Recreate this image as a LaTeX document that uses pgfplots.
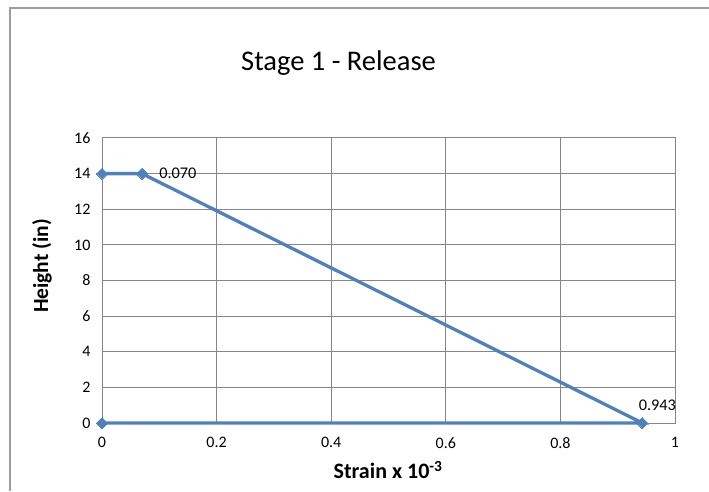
\documentclass[border=0pt]{standalone}
\usepackage{pgfplots}
\pgfplotsset{compat=1.18}
\usepackage{fontspec}
\setmainfont{Carlito}
\definecolor{xlblue}{HTML}{4F81BD}
\definecolor{xlgrid}{HTML}{868686}
\begin{document}
\begin{tikzpicture}[x=1pt,y=1pt]
\useasboundingbox (0,0) rectangle (709,491);
\draw[xlgrid!80, line width=1.2pt] (10,0) -- (10,483) -- (709,483);
\begin{axis}[
  at={(102pt,68pt)}, anchor=south west,
  scale only axis, width=573pt, height=285pt,
  xmin=0, xmax=1, ymin=0, ymax=16,
  xtick={0,0.2,0.4,0.6,0.8,1},
  ytick={0,2,4,6,8,10,12,14,16},
  xticklabels={0,0.2,0.4,0.6,0.8,1},
  grid=major,
  major grid style={xlgrid, line width=1pt},
  axis line style={xlgrid, line width=1pt},
  major tick length=0pt,
  tick style={draw=none},
  /pgf/number format/assume math mode=true,
  ticklabel style={font=\fontsize{16}{19}\selectfont, text=black},
  xticklabel style={yshift=-11pt},
  yticklabel style={xshift=-8pt},
  clip=false,
]
\addplot[xlblue, line width=3.3pt, mark=square*, mark size=3.9pt,
  mark options={rotate=45, fill=xlblue, draw=xlblue, line width=0pt}]
  coordinates {(0,14) (0.07,14) (0.943,0) (0,0)};
\node[anchor=west, font=\fontsize{16.3}{19}\selectfont, inner sep=0pt] at (axis cs:0.07,14) [xshift=17pt] {0.070};
\node[anchor=south, font=\fontsize{16.3}{19}\selectfont, inner sep=0pt] at (axis cs:0.943,0) [xshift=15pt, yshift=12pt] {0.943};
\end{axis}
\node[font=\fontsize{28.5}{32}\selectfont] at (338.5,428) {Stage 1 - Release};
\node[font=\fontsize{22}{26}\selectfont\bfseries] at (388,21) {Strain x 10\textsuperscript{-3}};
\node[font=\fontsize{21.5}{26}\selectfont\bfseries, rotate=90] at (42,225) {Height (in)};
\end{tikzpicture}
\end{document}
